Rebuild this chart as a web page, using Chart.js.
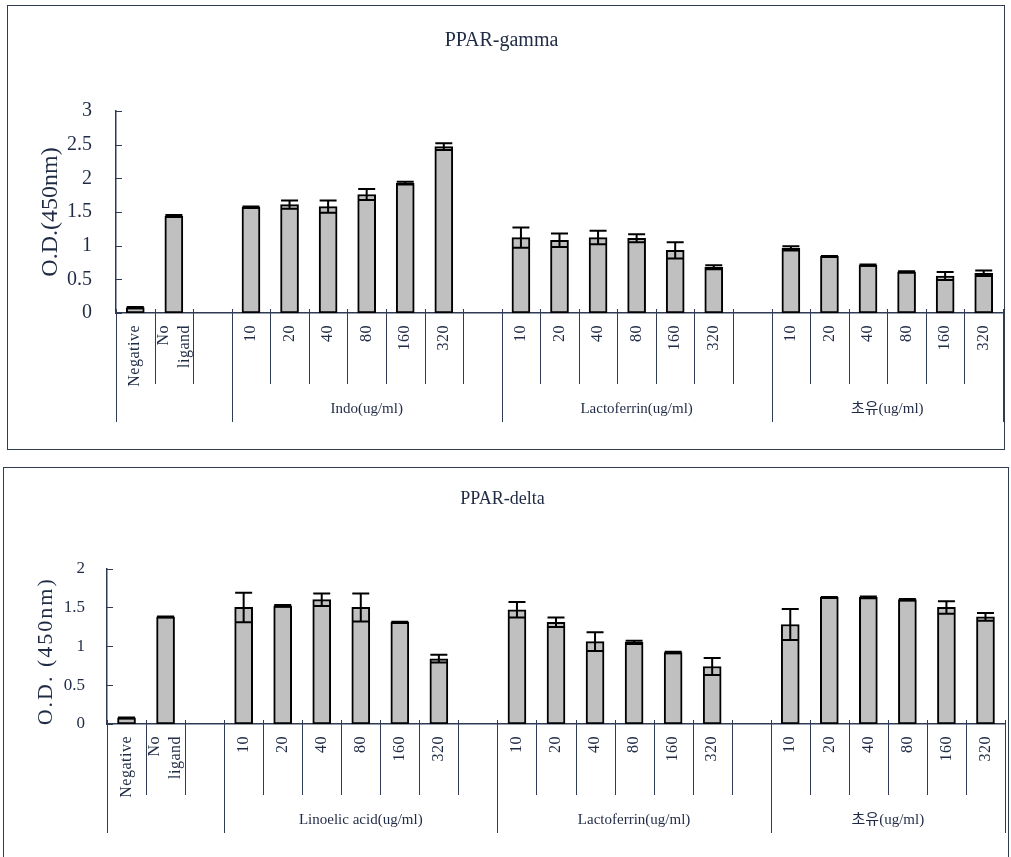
<!DOCTYPE html>
<html>
<head>
<meta charset="utf-8">
<script src="https://cdn.jsdelivr.net/npm/chart.js@4.4.1/dist/chart.umd.min.js"></script>
<style>
  body { margin: 0; background: #fff; width: 1011px; height: 857px; overflow: hidden; position: relative; }
  .box { position: absolute; border: 1.5px solid #2f3b52; }
  #box1 { left: 7px; top: 5px; width: 996px; height: 443px; }
  #box2 { left: 3px; top: 467px; width: 1004px; height: 410px; }
  canvas { position: absolute; left: 0; }
  #gamma { top: 0; }
  #delta { top: 457px; }
</style>
</head>
<body>
<div class="box" id="box1"></div>
<div class="box" id="box2"></div>
<canvas id="gamma" width="1011" height="457"></canvas>
<canvas id="delta" width="1011" height="400"></canvas>
<script>
// datos
const categories = ['Negative', ['No', 'ligand'], '',
  '10', '20', '40', '80', '160', '320', '',
  '10', '20', '40', '80', '160', '320', '',
  '10', '20', '40', '80', '160', '320'];
const groupSizes = [3, 7, 7, 6];
const gammaGroups = ['', 'Indo(ug/ml)', 'Lactoferrin(ug/ml)', '초유(ug/ml)'];
const deltaGroups = ['', 'Linoelic acid(ug/ml)', 'Lactoferrin(ug/ml)', '초유(ug/ml)'];

const gammaValues = [0.08, 1.44, null, 1.57, 1.61, 1.58, 1.76, 1.93, 2.47, null,
  1.12, 1.08, 1.12, 1.11, 0.93, 0.68, null, 0.96, 0.84, 0.71, 0.61, 0.55, 0.59];
const gammaErrors = [0.01, 0.015, null, 0.01, 0.06, 0.09, 0.08, 0.02, 0.05, null,
  0.15, 0.1, 0.1, 0.06, 0.12, 0.03, null, 0.03, 0.005, 0.01, 0.01, 0.06, 0.04];
const gammaTicks = [0, 0.5, 1, 1.5, 2, 2.5, 3];

const deltaValues = [0.08, 1.38, null, 1.50, 1.52, 1.60, 1.50, 1.31, 0.84, null,
  1.47, 1.31, 1.06, 1.05, 0.92, 0.74, null, 1.28, 1.63, 1.63, 1.60, 1.50, 1.38];
const deltaErrors = [0.005, 0.005, null, 0.19, 0.01, 0.08, 0.18, 0.005, 0.05, null,
  0.1, 0.06, 0.12, 0.02, 0.01, 0.11, null, 0.2, 0.005, 0.01, 0.01, 0.08, 0.05];
const deltaTicks = [0, 0.5, 1, 1.5, 2];

const FONT = "'Liberation Serif', 'Times New Roman', 'Noto Sans CJK KR', serif";
const INK = '#1f2a44';
const LINE = '#2f3b55';

// barras de error + eje de categorias estilo excel
const excelAxis = {
  id: 'excelAxis',
  afterDatasetsDraw(chart, args, o) {
    const ctx = chart.ctx, x = chart.scales.x, y = chart.scales.y;
    const data = chart.data.datasets[0].data;
    ctx.save();
    ctx.strokeStyle = '#000';
    ctx.lineWidth = 2;
    data.forEach((v, i) => {
      const e = o.errors[i];
      if (v == null || e == null) return;
      const cx = x.getPixelForValue(i);
      const hi = y.getPixelForValue(v + e), lo = y.getPixelForValue(v - e);
      ctx.beginPath();
      ctx.moveTo(cx, hi); ctx.lineTo(cx, lo);
      ctx.moveTo(cx - 8.5, hi); ctx.lineTo(cx + 8.5, hi);
      ctx.moveTo(cx - 8.5, lo); ctx.lineTo(cx + 8.5, lo);
      ctx.stroke();
    });
    ctx.restore();
  },
  afterDraw(chart, args, o) {
    const ctx = chart.ctx, x = chart.scales.x, y = chart.scales.y;
    const n = chart.data.labels.length;
    const step = x.getPixelForValue(1) - x.getPixelForValue(0);
    const ay = chart.chartArea.bottom;
    ctx.save();

    // ticks hacia adentro del eje y
    ctx.strokeStyle = LINE;
    ctx.lineWidth = 1;
    y.ticks.forEach(t => {
      const py = Math.round(y.getPixelForValue(t.value)) + 0.5;
      ctx.beginPath();
      ctx.moveTo(y.right, py); ctx.lineTo(y.right + 6, py);
      ctx.stroke();
    });

    // divisiones de categorias
    const bounds = [0];
    groupSizes.forEach(s => bounds.push(bounds[bounds.length - 1] + s));
    for (let i = 0; i <= n; i++) {
      const bx = Math.round(x.getPixelForValue(i) - step / 2) + 0.5;
      const long = bounds.includes(i);
      ctx.beginPath();
      ctx.moveTo(bx, ay - 4);
      ctx.lineTo(bx, ay + (long ? 109 : 71));
      ctx.stroke();
    }

    // etiquetas rotadas
    ctx.fillStyle = INK;
    ctx.font = '16px ' + FONT;
    ctx.letterSpacing = '0.5px';
    ctx.textAlign = 'right';
    ctx.textBaseline = 'middle';
    chart.data.labels.forEach((lab, i) => {
      const lines = Array.isArray(lab) ? lab : [lab];
      ctx.save();
      ctx.translate(x.getPixelForValue(i), ay + 12);
      ctx.rotate(-Math.PI / 2);
      lines.forEach((t, k) => ctx.fillText(t, 0, (k - (lines.length - 1) / 2) * 21));
      ctx.restore();
    });
    ctx.letterSpacing = '0px';

    // nombres de grupo
    ctx.font = '15px ' + FONT;
    ctx.textAlign = 'center';
    o.groups.forEach((g, k) => {
      if (!g) return;
      const a = x.getPixelForValue(bounds[k]) - step / 2;
      const b = x.getPixelForValue(bounds[k + 1]) - step / 2;
      ctx.fillText(g, (a + b) / 2, ay + 96);
    });

    // titulo del eje y
    ctx.font = o.yTitleSize + 'px ' + FONT;
    ctx.letterSpacing = o.yTitleSpacing + 'px';
    ctx.translate(o.yTitleX, (chart.chartArea.top + chart.chartArea.bottom) / 2 + o.yTitleShift);
    ctx.rotate(-Math.PI / 2);
    ctx.fillText(o.yTitle, 0, 0);
    ctx.restore();
  }
};

function crearGrafico(id, cfg) {
  return new Chart(document.getElementById(id), {
    type: 'bar',
    data: {
      labels: categories,
      datasets: [{
        data: cfg.values,
        backgroundColor: '#c0c0c0',
        borderColor: '#000',
        borderWidth: 2,
        borderSkipped: false,
        barThickness: 18
      }]
    },
    options: {
      responsive: false,
      animation: false,
      layout: { padding: { left: 0, right: cfg.padRight, top: 0, bottom: 0 } },
      scales: {
        x: {
          ticks: { display: false },
          grid: { display: false },
          border: { display: true, color: LINE, width: 1.5 },
          afterFit: s => { s.height = cfg.bottomSpace; }
        },
        y: {
          min: 0,
          max: cfg.ticks[cfg.ticks.length - 1],
          afterBuildTicks: s => { s.ticks = cfg.ticks.map(v => ({ value: v })); },
          ticks: {
            callback: v => String(v),
            color: INK,
            padding: cfg.tickPad,
            font: { family: FONT, size: cfg.tickSize }
          },
          grid: { display: false },
          border: { display: true, color: LINE, width: 1.5 },
          afterFit: s => { s.width = cfg.axisLeft; }
        }
      },
      plugins: {
        legend: { display: false },
        tooltip: { enabled: false },
        title: {
          display: true,
          text: cfg.title,
          color: INK,
          font: { family: FONT, size: cfg.titleSize, weight: 'normal' },
          padding: cfg.titlePad
        },
        excelAxis: {
          errors: cfg.errors,
          groups: cfg.groups,
          yTitle: cfg.yTitle,
          yTitleSize: cfg.yTitleSize,
          yTitleSpacing: cfg.yTitleSpacing,
          yTitleX: cfg.yTitleX,
          yTitleShift: cfg.yTitleShift
        }
      }
    },
    plugins: [excelAxis]
  });
}

crearGrafico('gamma', {
  title: 'PPAR-gamma', titleSize: 20, titlePad: { top: 29, bottom: 58 },
  values: gammaValues, errors: gammaErrors, groups: gammaGroups, ticks: gammaTicks,
  tickSize: 20, tickPad: 16, axisLeft: 116, padRight: 8, bottomSpace: 144,
  yTitle: 'O.D.(450nm)', yTitleSize: 24, yTitleSpacing: 0, yTitleX: 51, yTitleShift: 0
});

crearGrafico('delta', {
  title: 'PPAR-delta', titleSize: 18, titlePad: { top: 31, bottom: 59 },
  values: deltaValues, errors: deltaErrors, groups: deltaGroups, ticks: deltaTicks,
  tickSize: 17, tickPad: 14, axisLeft: 107, padRight: 6, bottomSpace: 133,
  yTitle: 'O.D. (450nm)', yTitleSize: 22, yTitleSpacing: 2, yTitleX: 46, yTitleShift: 5
});
</script>
</body>
</html>
